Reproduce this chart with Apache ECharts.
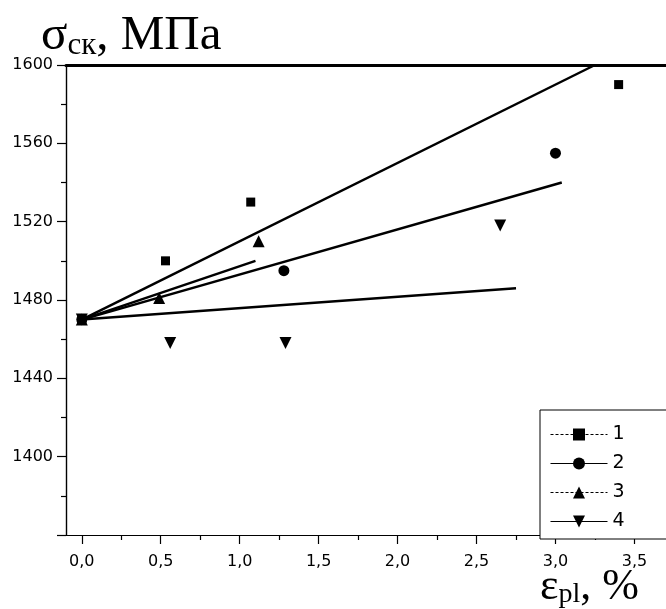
<!DOCTYPE html>
<html>
<head>
<meta charset="utf-8">
<script src="https://cdn.jsdelivr.net/npm/echarts@6/dist/echarts.min.js"></script>
<style>
  html, body { margin: 0; padding: 0; background: #fff; }
  #chart { width: 666px; height: 609px; }
</style>
</head>
<body>
<div id="chart"></div>
<script>
const xTicks = [0, 0.5, 1, 1.5, 2, 2.5, 3, 3.5];
const xMinorTicks = [0.25, 0.75, 1.25, 1.75, 2.25, 2.75, 3.25];
const yTicks = [1400, 1440, 1480, 1520, 1560, 1600];
const seriesNames = ['1', '2', '3', '4'];

// measured points
const points1 = [[0, 1470], [0.53, 1500], [1.07, 1530], [3.4, 1590]];
const points2 = [[0, 1470], [1.28, 1495], [3.0, 1555]];
const points3 = [[0, 1470], [0.49, 1481], [1.12, 1510]];
const points4 = [[0, 1470], [0.56, 1458], [1.29, 1458], [2.65, 1518]];

// linear fits (start, end)
const fit1 = [[0, 1470], [3.25, 1600]];
const fit2 = [[0, 1470], [3.04, 1540]];
const fit3 = [[0, 1470], [1.1, 1500]];
const fit4 = [[0, 1470], [2.75, 1486]];

const chart = echarts.init(document.getElementById('chart'));

const black = '#000';
const labelFont = 'DejaVu Sans';
const serif = 'Liberation Serif';

function pointSeries(name, data, symbol, size, rotate) {
  return {
    name: name,
    type: 'line',
    data: data,
    symbol: symbol,
    symbolSize: size,
    symbolRotate: rotate || 0,
    showAllSymbol: true,
    lineStyle: { opacity: 0 },
    itemStyle: { color: black },
    emphasis: { disabled: true },
    z: 3
  };
}

function fitSeries(name, data) {
  return {
    name: name,
    type: 'line',
    data: data,
    symbol: 'none',
    lineStyle: { color: black, width: 2.5 },
    emphasis: { disabled: true },
    z: 2
  };
}

const option = {
  animation: false,
  backgroundColor: '#fff',
  grid: { left: 66, right: 0, top: 65, bottom: 74 },
  legend: {
    data: [
      { name: seriesNames[0], lineStyle: { type: [3, 2], width: 1, opacity: 1, color: black } },
      { name: seriesNames[1], lineStyle: { type: 'solid', width: 1, opacity: 1, color: black } },
      { name: seriesNames[2], lineStyle: { type: [3, 2], width: 1, opacity: 1, color: black } },
      { name: seriesNames[3], lineStyle: { type: 'solid', width: 1, opacity: 1, color: black } }
    ],
    orient: 'vertical',
    left: 540,
    top: 410,
    itemWidth: 57,
    itemHeight: 15,
    itemGap: 10,
    padding: [15, 50, 8, 10],
    borderColor: black,
    borderWidth: 1,
    backgroundColor: '#fff',
    selectedMode: false,
    textStyle: { fontSize: 19, fontFamily: labelFont, color: black }
  },
  xAxis: [
    {
      type: 'value',
      min: -0.1,
      max: 3.7,
      axisLine: { show: true, onZero: false, lineStyle: { color: black, width: 1.2 } },
      axisTick: { show: true, customValues: xTicks, length: 9, lineStyle: { color: black, width: 1.2 } },
      axisLabel: {
        customValues: xTicks,
        margin: 19,
        fontSize: 16,
        fontFamily: labelFont,
        color: black,
        formatter: function (v) { return v.toFixed(1).replace('.', ','); }
      },
      splitLine: { show: false }
    },
    {
      type: 'value',
      min: -0.1,
      max: 3.7,
      position: 'bottom',
      axisLine: { show: false },
      axisTick: { show: true, customValues: xMinorTicks, length: 5, lineStyle: { color: black, width: 1.2 } },
      axisLabel: { show: false },
      splitLine: { show: false }
    },
    {
      type: 'value',
      min: -0.1,
      max: 3.7,
      position: 'top',
      axisLine: { show: true, onZero: false, lineStyle: { color: black, width: 3 } },
      axisTick: { show: false },
      axisLabel: { show: false },
      splitLine: { show: false }
    }
  ],
  yAxis: {
    type: 'value',
    min: 1360,
    max: 1600,
    interval: 40,
    axisLine: { show: true, onZero: false, lineStyle: { color: black, width: 1.4 } },
    axisTick: { show: true, length: 9, lineStyle: { color: black, width: 1.2 } },
    minorTick: { show: true, splitNumber: 2, length: 5, lineStyle: { color: black, width: 1.2 } },
    axisLabel: {
      customValues: yTicks,
      margin: 13,
      fontSize: 16,
      fontFamily: labelFont,
      color: black,
      formatter: function (v) { return String(v); }
    },
    splitLine: { show: false }
  },
  graphic: [
    {
      type: 'text',
      left: 41,
      top: 12,
      style: {
        text: '{a|σ}{b|ск}{a|, МПа}',
        rich: {
          a: { fontSize: 49, fontFamily: serif, fill: black, lineHeight: 46, verticalAlign: 'bottom' },
          b: { fontSize: 31, fontFamily: serif, fill: black, lineHeight: 22, verticalAlign: 'bottom' }
        }
      }
    },
    {
      type: 'text',
      left: 540,
      top: 565,
      style: {
        text: '{a|ε}{b|pl}{a|, %}',
        rich: {
          a: { fontSize: 44, fontFamily: serif, fill: black, lineHeight: 42, verticalAlign: 'bottom' },
          b: { fontSize: 28, fontFamily: serif, fill: black, lineHeight: 20, verticalAlign: 'bottom' }
        }
      }
    }
  ],
  series: [
    fitSeries('fit1', fit1),
    fitSeries('fit2', fit2),
    fitSeries('fit3', fit3),
    fitSeries('fit4', fit4),
    pointSeries(seriesNames[0], points1, 'rect', 9),
    pointSeries(seriesNames[1], points2, 'circle', 11),
    pointSeries(seriesNames[2], points3, 'triangle', 12),
    pointSeries(seriesNames[3], points4, 'triangle', 12, 180)
  ]
};

chart.setOption(option);
</script>
</body>
</html>
